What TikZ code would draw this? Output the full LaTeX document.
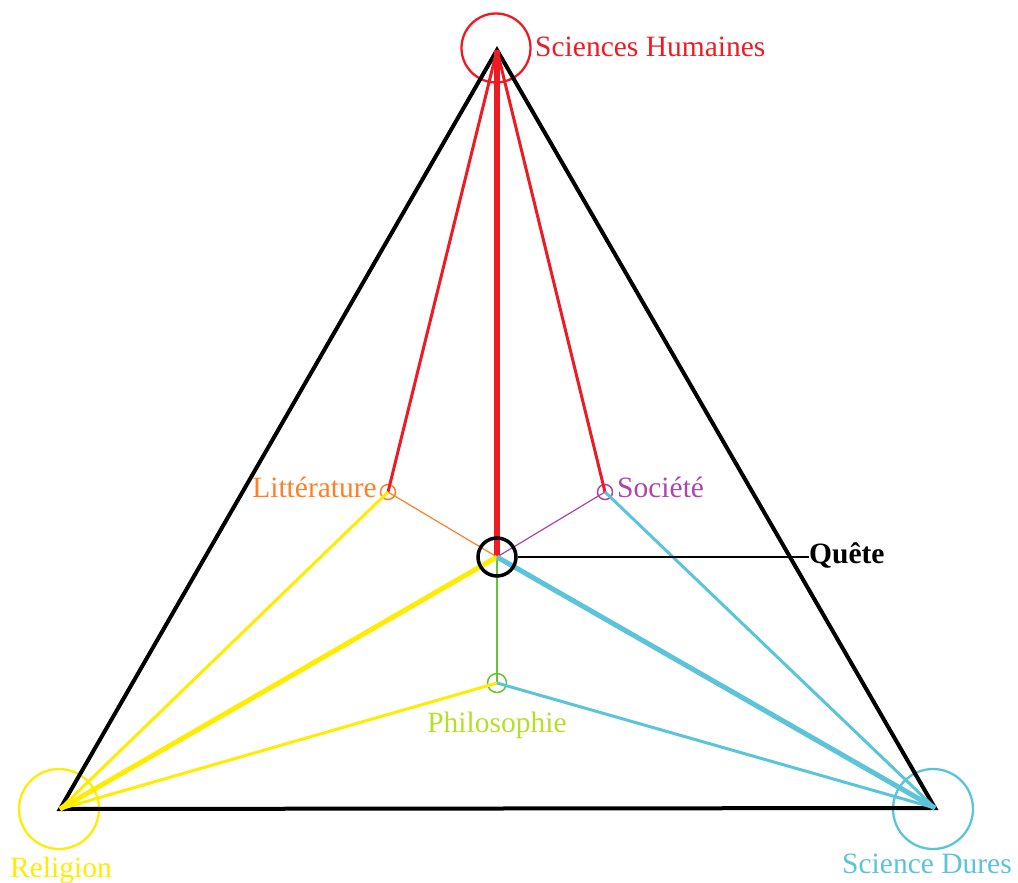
\documentclass[tikz,border=0pt]{standalone}
\usepackage{fontspec}
\setmainfont{Liberation Serif}
\definecolor{humred}{RGB}{237,28,36}
\definecolor{relyellow}{RGB}{255,236,0}
\definecolor{durcyan}{RGB}{92,196,216}
\definecolor{litorange}{RGB}{255,127,39}
\definecolor{socpurple}{RGB}{170,70,170}
\definecolor{philgreen}{RGB}{100,195,60}
\definecolor{philtext}{RGB}{181,224,40}
\tikzset{
  lbl/.style={inner sep=0pt,font=\fontsize{29.5}{30}\selectfont},
  ring/.style={circle,draw=#1,line width=2.3pt,minimum size=80pt,inner sep=0pt},
  dot/.style={circle,draw=#1,line width=1.5pt,minimum size=15pt,inner sep=0pt}
}
\begin{document}
\begin{tikzpicture}[x=1pt,y=-1pt]
      \useasboundingbox (0,0) rectangle (1018,883);

      %%%%  Sommets
      \coordinate (hum) at (497,50);
      \coordinate (rel) at (60,809);
      \coordinate (dur) at (935,808);

      \node[ring=humred,minimum size=69pt] (humring) at (496,48) {};
      \node[ring=relyellow] (relring) at (59,809) {};
      \node[ring=durcyan] (durring) at (933,809) {};

      %%%%  Points interieurs
      \coordinate (quete) at (497,557);
      \node[dot=litorange] (lit) at (388,492) {};
      \node[dot=socpurple] (soc) at (605,492) {};
      \node[dot=philgreen,minimum size=19pt] (phil) at (497,683) {};

      %%%%  Triangle
      \draw[line width=4pt,line join=miter] (hum) -- (rel) -- (dur) -- cycle;

      %%%%  Liens fins vers la quete
      \draw[litorange,line width=1.2pt] (lit.center) -- (quete);
      \draw[socpurple,line width=1.2pt] (soc.center) -- (quete);
      \draw[philgreen,line width=1.4pt] (phil.center) -- (quete);

      %%%%  Rouge
      \draw[humred,line width=6pt] (quete) -- (hum);
      \foreach \p in {lit,soc}
       {\draw[humred,line width=3pt] (\p.center) -- (hum);};

      %%%%  Jaune
      \draw[relyellow,line width=5pt] (quete) -- (rel);
      \foreach \p in {lit,phil}
       {\draw[relyellow,line width=3pt] (\p.center) -- (rel);};

      %%%%  Cyan
      \draw[durcyan,line width=5pt] (quete) -- (dur);
      \foreach \p in {soc,phil}
       {\draw[durcyan,line width=3pt] (\p.center) -- (dur);};

      %%%%  Quete
      \node[circle,draw,line width=3.5pt,minimum size=38pt,inner sep=0pt] (quetering) at (quete) {};

      %%%%  Textes
      \node[lbl,text=humred,anchor=base west] (humlabel) at (535,57) {Sciences Humaines};
      \node[lbl,text=litorange,anchor=base east] (litlabel) at (377,497) {Littérature};
      \node[lbl,text=socpurple,anchor=base west] (soclabel) at (617,497) {Société};
      \node[lbl,anchor=base west,font=\fontsize{29.5}{30}\selectfont\bfseries] (quetelabel) at (809,563) {Quête};
      \node[lbl,text=philtext,anchor=base] (phillabel) at (497,732) {Philosophie};
      \node[lbl,text=relyellow,anchor=base west] (rellabel) at (10,877) {Religion};
      \node[lbl,text=durcyan,anchor=base west] (durlabel) at (842,873) {Science Dures};

      \draw[line width=1.2pt] (quetering.east) -- (quete -| quetelabel.west);
    \end{tikzpicture}
\end{document}
